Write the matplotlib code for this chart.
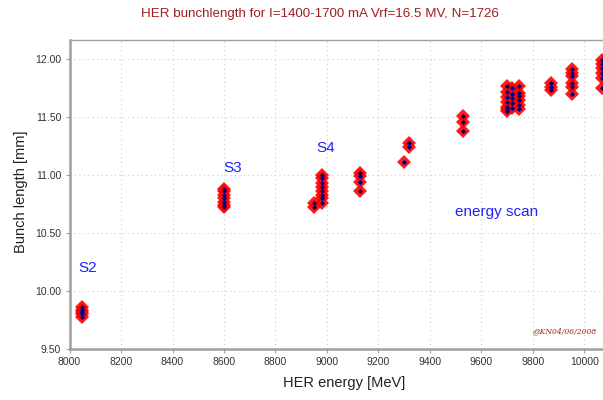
import matplotlib.pyplot as plt
from matplotlib.ticker import MultipleLocator

plt.rcParams['font.family'] = ['Liberation Sans', 'DejaVu Sans']

# measured bunch length, grouped by HER energy setting
energies = [8050, 8600, 8950, 8980, 9130, 9300, 9320, 9530,
            9700, 9720, 9745, 9870, 9950, 10070]
lengths = [
    [9.86, 9.84, 9.82, 9.80, 9.78],
    [10.88, 10.86, 10.83, 10.80, 10.77, 10.74, 10.72],
    [10.76, 10.72],
    [11.00, 10.97, 10.93, 10.90, 10.86, 10.83, 10.80, 10.76],
    [11.02, 10.99, 10.94, 10.86],
    [11.11],
    [11.28, 11.24],
    [11.51, 11.46, 11.38],
    [11.77, 11.72, 11.67, 11.63, 11.59, 11.57, 11.55],
    [11.75, 11.70, 11.66, 11.62, 11.58],
    [11.77, 11.71, 11.68, 11.65, 11.60, 11.57],
    [11.79, 11.76, 11.73],
    [11.91, 11.88, 11.85, 11.79, 11.76, 11.70],
    [11.99, 11.96, 11.92, 11.88, 11.84, 11.75],
]

labels = ['S2', 'S3', 'S4', 'energy scan']
label_x = [8070, 8635, 8996, 9657]
label_y = [10.20, 11.06, 11.23, 10.68]

xs, ys = [], []
for e, ls in zip(energies, lengths):
    xs += [e] * len(ls)
    ys += ls

fig = plt.figure(figsize=(6.03, 4.0), dpi=100)
# plot area runs past the right edge of the picture, like the original screenshot
ax = fig.add_axes([0.1153, 0.1275, 0.918, 0.7725])
ax.set_xlim(8000, 10150)
ax.set_ylim(9.5, 12.164)

ax.plot(xs, ys, 'D', color='#ff0000', markersize=7.2, markeredgewidth=0, alpha=0.9)
ax.plot(xs, ys, 'D', color='#000080', markersize=2.6, markeredgewidth=0)

for t, x, y in zip(labels, label_x, label_y):
    ax.text(x, y, t, color='#2020ff', fontsize=11, ha='center', va='center')

fig.text(0.99, 0.1725, '@KN04/06/2008', ha='right', va='center',
         fontsize=5.5, style='italic', family='DejaVu Serif', color='#a02020')

ax.xaxis.set_major_locator(MultipleLocator(200))
ax.yaxis.set_major_locator(MultipleLocator(0.5))
ax.yaxis.set_major_formatter(plt.FuncFormatter(lambda v, p: f'{v:.2f}'))
ax.grid(True, color='#cccccc', linestyle=(0, (1, 3)), linewidth=0.8)
ax.set_axisbelow(True)

for s in ['left', 'bottom']:
    ax.spines[s].set_color('#a0a0a0')
    ax.spines[s].set_linewidth(1.8)
ax.spines['top'].set_color('#a0a0a0')
ax.spines['top'].set_linewidth(1.0)
ax.spines['right'].set_visible(False)
ax.tick_params(length=3, color='#a0a0a0', labelsize=7.5, labelcolor='#333333', pad=3)

fig.text(0.53, 0.965, 'HER bunchlength for I=1400-1700 mA Vrf=16.5 MV, N=1726',
         ha='center', va='center', color='#a01e1e', fontsize=9.6)
fig.text(0.57, 0.043, 'HER energy [MeV]', ha='center', va='center', fontsize=10.5, color='#222222')
fig.text(0.035, 0.52, 'Bunch length [mm]', ha='center', va='center', rotation=90,
         fontsize=10.5, color='#222222')

fig.savefig('out.png', dpi=100)
